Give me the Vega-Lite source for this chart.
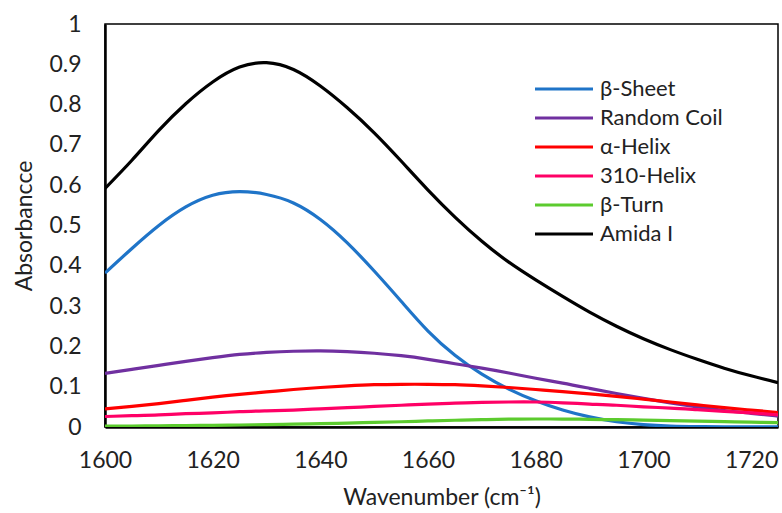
{
  "$schema": "https://vega.github.io/schema/vega-lite/v6.json",
  "width": 673,
  "height": 403,
  "autosize": {"type": "none"},
  "padding": {"left": 105, "top": 24, "right": 4, "bottom": 86},
  "background": "white",
  "config": {
    "font": "Lato",
    "view": {"stroke": "black", "strokeWidth": 1.5},
    "axis": {"grid": false, "ticks": false, "tickSize": 0, "domainColor": "black", "domainWidth": 2.5, "labelColor": "#222222", "titleColor": "#222222", "labelFont": "Lato", "titleFont": "Lato", "labelFontSize": 23, "titleFontSize": 23, "titleFontWeight": "normal"}
  },
  "data": {"values": [
    {"w":1600,"s":"β-Sheet","a":0.382},{"w":1605,"s":"β-Sheet","a":0.443},{"w":1610,"s":"β-Sheet","a":0.500},{"w":1615,"s":"β-Sheet","a":0.546},{"w":1620,"s":"β-Sheet","a":0.575},{"w":1625,"s":"β-Sheet","a":0.584},{"w":1630,"s":"β-Sheet","a":0.577},{"w":1635,"s":"β-Sheet","a":0.556},{"w":1640,"s":"β-Sheet","a":0.515},{"w":1645,"s":"β-Sheet","a":0.457},{"w":1650,"s":"β-Sheet","a":0.387},{"w":1655,"s":"β-Sheet","a":0.312},{"w":1660,"s":"β-Sheet","a":0.238},{"w":1665,"s":"β-Sheet","a":0.178},{"w":1670,"s":"β-Sheet","a":0.131},{"w":1675,"s":"β-Sheet","a":0.094},{"w":1680,"s":"β-Sheet","a":0.065},{"w":1685,"s":"β-Sheet","a":0.042},{"w":1690,"s":"β-Sheet","a":0.025},{"w":1695,"s":"β-Sheet","a":0.013},{"w":1700,"s":"β-Sheet","a":0.006},{"w":1705,"s":"β-Sheet","a":0.0025},{"w":1710,"s":"β-Sheet","a":0.001},{"w":1715,"s":"β-Sheet","a":0.0004},{"w":1720,"s":"β-Sheet","a":0.0002},{"w":1725,"s":"β-Sheet","a":0.0001},
    {"w":1600,"s":"Random Coil","a":0.133},{"w":1605,"s":"Random Coil","a":0.143},{"w":1610,"s":"Random Coil","a":0.153},{"w":1615,"s":"Random Coil","a":0.163},{"w":1620,"s":"Random Coil","a":0.172},{"w":1625,"s":"Random Coil","a":0.180},{"w":1630,"s":"Random Coil","a":0.185},{"w":1635,"s":"Random Coil","a":0.188},{"w":1640,"s":"Random Coil","a":0.189},{"w":1645,"s":"Random Coil","a":0.187},{"w":1650,"s":"Random Coil","a":0.183},{"w":1655,"s":"Random Coil","a":0.177},{"w":1660,"s":"Random Coil","a":0.168},{"w":1665,"s":"Random Coil","a":0.157},{"w":1670,"s":"Random Coil","a":0.146},{"w":1675,"s":"Random Coil","a":0.134},{"w":1680,"s":"Random Coil","a":0.121},{"w":1685,"s":"Random Coil","a":0.109},{"w":1690,"s":"Random Coil","a":0.096},{"w":1695,"s":"Random Coil","a":0.083},{"w":1700,"s":"Random Coil","a":0.071},{"w":1705,"s":"Random Coil","a":0.060},{"w":1710,"s":"Random Coil","a":0.050},{"w":1715,"s":"Random Coil","a":0.041},{"w":1720,"s":"Random Coil","a":0.034},{"w":1725,"s":"Random Coil","a":0.027},
    {"w":1600,"s":"α-Helix","a":0.045},{"w":1605,"s":"α-Helix","a":0.051},{"w":1610,"s":"α-Helix","a":0.058},{"w":1615,"s":"α-Helix","a":0.066},{"w":1620,"s":"α-Helix","a":0.074},{"w":1625,"s":"α-Helix","a":0.081},{"w":1630,"s":"α-Helix","a":0.087},{"w":1635,"s":"α-Helix","a":0.093},{"w":1640,"s":"α-Helix","a":0.098},{"w":1645,"s":"α-Helix","a":0.102},{"w":1650,"s":"α-Helix","a":0.105},{"w":1655,"s":"α-Helix","a":0.106},{"w":1660,"s":"α-Helix","a":0.106},{"w":1665,"s":"α-Helix","a":0.105},{"w":1670,"s":"α-Helix","a":0.102},{"w":1675,"s":"α-Helix","a":0.098},{"w":1680,"s":"α-Helix","a":0.093},{"w":1685,"s":"α-Helix","a":0.088},{"w":1690,"s":"α-Helix","a":0.082},{"w":1695,"s":"α-Helix","a":0.076},{"w":1700,"s":"α-Helix","a":0.069},{"w":1705,"s":"α-Helix","a":0.062},{"w":1710,"s":"α-Helix","a":0.055},{"w":1715,"s":"α-Helix","a":0.048},{"w":1720,"s":"α-Helix","a":0.042},{"w":1725,"s":"α-Helix","a":0.036},
    {"w":1600,"s":"310-Helix","a":0.026},{"w":1605,"s":"310-Helix","a":0.028},{"w":1610,"s":"310-Helix","a":0.030},{"w":1615,"s":"310-Helix","a":0.033},{"w":1620,"s":"310-Helix","a":0.035},{"w":1625,"s":"310-Helix","a":0.038},{"w":1630,"s":"310-Helix","a":0.040},{"w":1635,"s":"310-Helix","a":0.042},{"w":1640,"s":"310-Helix","a":0.045},{"w":1645,"s":"310-Helix","a":0.048},{"w":1650,"s":"310-Helix","a":0.051},{"w":1655,"s":"310-Helix","a":0.054},{"w":1660,"s":"310-Helix","a":0.057},{"w":1665,"s":"310-Helix","a":0.059},{"w":1670,"s":"310-Helix","a":0.061},{"w":1675,"s":"310-Helix","a":0.062},{"w":1680,"s":"310-Helix","a":0.062},{"w":1685,"s":"310-Helix","a":0.060},{"w":1690,"s":"310-Helix","a":0.057},{"w":1695,"s":"310-Helix","a":0.054},{"w":1700,"s":"310-Helix","a":0.050},{"w":1705,"s":"310-Helix","a":0.047},{"w":1710,"s":"310-Helix","a":0.043},{"w":1715,"s":"310-Helix","a":0.039},{"w":1720,"s":"310-Helix","a":0.035},{"w":1725,"s":"310-Helix","a":0.030},
    {"w":1600,"s":"β-Turn","a":0.002},{"w":1605,"s":"β-Turn","a":0.0025},{"w":1610,"s":"β-Turn","a":0.003},{"w":1615,"s":"β-Turn","a":0.0035},{"w":1620,"s":"β-Turn","a":0.0042},{"w":1625,"s":"β-Turn","a":0.005},{"w":1630,"s":"β-Turn","a":0.006},{"w":1635,"s":"β-Turn","a":0.007},{"w":1640,"s":"β-Turn","a":0.0083},{"w":1645,"s":"β-Turn","a":0.0097},{"w":1650,"s":"β-Turn","a":0.0113},{"w":1655,"s":"β-Turn","a":0.013},{"w":1660,"s":"β-Turn","a":0.015},{"w":1665,"s":"β-Turn","a":0.0168},{"w":1670,"s":"β-Turn","a":0.0183},{"w":1675,"s":"β-Turn","a":0.0193},{"w":1680,"s":"β-Turn","a":0.0198},{"w":1685,"s":"β-Turn","a":0.0197},{"w":1690,"s":"β-Turn","a":0.019},{"w":1695,"s":"β-Turn","a":0.0181},{"w":1700,"s":"β-Turn","a":0.017},{"w":1705,"s":"β-Turn","a":0.0158},{"w":1710,"s":"β-Turn","a":0.0146},{"w":1715,"s":"β-Turn","a":0.0133},{"w":1720,"s":"β-Turn","a":0.012},{"w":1725,"s":"β-Turn","a":0.011},
    {"w":1600,"s":"Amida I","a":0.592},{"w":1605,"s":"Amida I","a":0.662},{"w":1610,"s":"Amida I","a":0.736},{"w":1615,"s":"Amida I","a":0.802},{"w":1620,"s":"Amida I","a":0.856},{"w":1625,"s":"Amida I","a":0.893},{"w":1630,"s":"Amida I","a":0.904},{"w":1635,"s":"Amida I","a":0.887},{"w":1640,"s":"Amida I","a":0.846},{"w":1645,"s":"Amida I","a":0.792},{"w":1650,"s":"Amida I","a":0.730},{"w":1655,"s":"Amida I","a":0.660},{"w":1660,"s":"Amida I","a":0.588},{"w":1665,"s":"Amida I","a":0.521},{"w":1670,"s":"Amida I","a":0.461},{"w":1675,"s":"Amida I","a":0.409},{"w":1680,"s":"Amida I","a":0.365},{"w":1685,"s":"Amida I","a":0.324},{"w":1690,"s":"Amida I","a":0.285},{"w":1695,"s":"Amida I","a":0.250},{"w":1700,"s":"Amida I","a":0.219},{"w":1705,"s":"Amida I","a":0.192},{"w":1710,"s":"Amida I","a":0.168},{"w":1715,"s":"Amida I","a":0.146},{"w":1720,"s":"Amida I","a":0.127},{"w":1725,"s":"Amida I","a":0.110}
  ]},
  "mark": {"type": "line", "strokeWidth": 3.2, "interpolate": "natural", "clip": true},
  "encoding": {
    "x": {"field": "w", "type": "quantitative", "title": "Wavenumber (cm⁻¹)",
      "scale": {"domain": [1600, 1725], "nice": false, "zero": false},
      "axis": {"values": [1600, 1620, 1640, 1660, 1680, 1700, 1720], "format": "d", "labelPadding": 22, "titlePadding": 14, "labelFlush": false, "labelOverlap": false}},
    "y": {"field": "a", "type": "quantitative", "title": "Absorbancce",
      "scale": {"domain": [0, 1], "nice": false},
      "axis": {"values": [0, 0.1, 0.2, 0.3, 0.4, 0.5, 0.6, 0.7, 0.8, 0.9, 1], "format": "~g", "labelPadding": 24, "titlePadding": 12, "labelFlush": false, "labelOverlap": false}},
    "color": {"field": "s", "type": "nominal", "sort": null,
      "scale": {"domain": ["β-Sheet", "Random Coil", "α-Helix", "310-Helix", "β-Turn", "Amida I"],
                "range": ["#1F74C8", "#7030A0", "#FF0000", "#FF0066", "#5CCB2E", "#000000"]},
      "legend": {"title": null, "orient": "none", "legendX": 466, "legendY": 53, "symbolType": "M-4.8,0H1", "symbolSize": 400, "symbolStrokeWidth": 3.2, "labelFontSize": 22, "labelFont": "Lato", "labelColor": "#222222", "rowPadding": 6, "labelOffset": 5, "labelLimit": 300}}
  }
}
